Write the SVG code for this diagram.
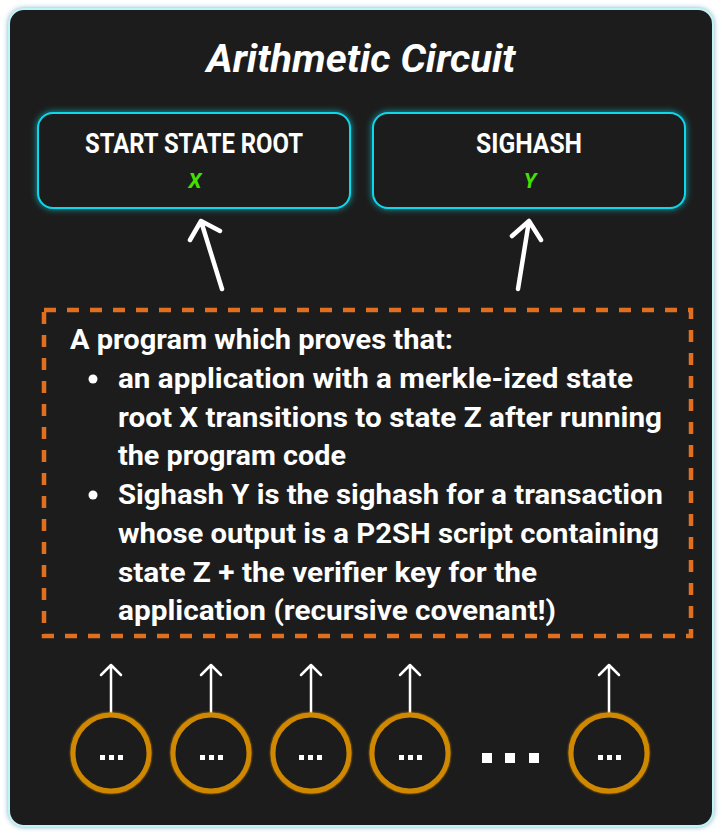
<svg xmlns="http://www.w3.org/2000/svg" width="722" height="835" viewBox="0 0 722 835">
<defs>
<filter id="glow" x="-10%" y="-10%" width="120%" height="120%">
<feGaussianBlur stdDeviation="3" result="b"/>
<feMerge><feMergeNode in="b"/><feMergeNode in="SourceGraphic"/></feMerge>
</filter>
<filter id="soft" x="-20%" y="-20%" width="140%" height="140%">
<feGaussianBlur stdDeviation="1.2" result="b"/>
<feMerge><feMergeNode in="b"/><feMergeNode in="SourceGraphic"/></feMerge>
</filter>
<style>
.panel{fill:#1d1d1d;stroke:#bff4fb;stroke-width:2}
.box{fill:#1d1d1d;stroke:#10d8ea;stroke-width:2}
.title{font-family:Roboto,"Liberation Sans",sans-serif;font-weight:bold;font-style:italic;font-size:39px;fill:#fff;text-anchor:middle}
.lbl{font-family:Roboto,"Liberation Sans",sans-serif;font-weight:bold;font-size:28px;fill:#fff;text-anchor:middle}
.var{font-family:Roboto,"Liberation Sans",sans-serif;font-weight:bold;font-style:italic;font-size:21px;fill:#44e000;text-anchor:middle}
.body{font-family:Roboto,"Liberation Sans",sans-serif;font-weight:bold;font-size:28px;fill:#fff}
.dash{fill:none;stroke:#e07020;stroke-width:4.5;stroke-dasharray:12 11}
.big{fill:none;stroke:#fff;stroke-width:4.5;stroke-linecap:round;stroke-linejoin:round}
.small{fill:none;stroke:#fff;stroke-width:2.5;stroke-linecap:round;stroke-linejoin:round}
.circ{fill:#1d1d1d;stroke:#d08800;stroke-width:5}
.dot{fill:#fff}
</style>
</defs>
<rect class="panel" x="9" y="9" width="704" height="817" rx="15" filter="url(#glow)"/>
<text class="title" x="361" y="72" textLength="309" lengthAdjust="spacingAndGlyphs">Arithmetic Circuit</text>

<g id="start-state-root">
<rect class="box" x="38" y="113" width="312" height="95" rx="15" filter="url(#glow)"/>
<text class="lbl" x="194" y="153" textLength="218" lengthAdjust="spacingAndGlyphs">START STATE ROOT</text>
<text class="var" x="195" y="188">X</text>
</g>
<g id="sighash">
<rect class="box" x="373" y="113" width="312" height="95" rx="15" filter="url(#glow)"/>
<text class="lbl" x="529" y="153" textLength="106" lengthAdjust="spacingAndGlyphs">SIGHASH</text>
<text class="var" x="530" y="188">Y</text>
</g>

<g id="program">
<rect class="dash" x="44" y="310" width="647" height="326"/>
<text class="body" x="70" y="349" textLength="383" lengthAdjust="spacingAndGlyphs">A program which proves that:</text>
<circle class="dot" cx="93" cy="379" r="4.5"/>
<text class="body" x="118" y="388" textLength="515" lengthAdjust="spacingAndGlyphs">an application with a merkle-ized state</text>
<text class="body" x="118" y="427" textLength="544" lengthAdjust="spacingAndGlyphs">root X transitions to state Z after running</text>
<text class="body" x="118" y="465" textLength="228" lengthAdjust="spacingAndGlyphs">the program code</text>
<circle class="dot" cx="93" cy="495" r="4.5"/>
<text class="body" x="118" y="504" textLength="545" lengthAdjust="spacingAndGlyphs">Sighash Y is the sighash for a transaction</text>
<text class="body" x="118" y="543" textLength="541" lengthAdjust="spacingAndGlyphs">whose output is a P2SH script containing</text>
<text class="body" x="118" y="582" textLength="419" lengthAdjust="spacingAndGlyphs">state Z + the verifier key for the</text>
<text class="body" x="118" y="620" textLength="438" lengthAdjust="spacingAndGlyphs">application (recursive covenant!)</text>
</g>

<g id="connectors">
<path class="big" d="M222 289 L201 221 M190 240 L201 221 L220 231"/>
<path class="big" d="M518 289 L529 221 M512 236 L529 221 L541 240"/>
<path class="small" d="M111 713 V665 M101 675 L111 665 L121 675"/>
<path class="small" d="M211 713 V665 M201 675 L211 665 L221 675"/>
<path class="small" d="M311 713 V665 M301 675 L311 665 L321 675"/>
<path class="small" d="M410 713 V665 M400 675 L410 665 L420 675"/>
<path class="small" d="M609 713 V665 M599 675 L609 665 L619 675"/>
</g>

<g id="in1"><circle class="circ" cx="111" cy="753" r="38" filter="url(#soft)"/><rect class="dot" x="100" y="755" width="5" height="5"/><rect class="dot" x="109" y="755" width="5" height="5"/><rect class="dot" x="118" y="755" width="5" height="5"/></g>
<g id="in2"><circle class="circ" cx="211" cy="753" r="38" filter="url(#soft)"/><rect class="dot" x="200" y="755" width="5" height="5"/><rect class="dot" x="209" y="755" width="5" height="5"/><rect class="dot" x="218" y="755" width="5" height="5"/></g>
<g id="in3"><circle class="circ" cx="311" cy="753" r="38" filter="url(#soft)"/><rect class="dot" x="299" y="755" width="5" height="5"/><rect class="dot" x="308" y="755" width="5" height="5"/><rect class="dot" x="317" y="755" width="5" height="5"/></g>
<g id="in4"><circle class="circ" cx="410" cy="753" r="38" filter="url(#soft)"/><rect class="dot" x="399" y="755" width="5" height="5"/><rect class="dot" x="408" y="755" width="5" height="5"/><rect class="dot" x="417" y="755" width="5" height="5"/></g>
<g id="ellipsis"><rect class="dot" x="482" y="753" width="10" height="10"/><rect class="dot" x="505" y="753" width="10" height="10"/><rect class="dot" x="529" y="753" width="10" height="10"/></g>
<g id="in5"><circle class="circ" cx="609" cy="753" r="38" filter="url(#soft)"/><rect class="dot" x="598" y="755" width="5" height="5"/><rect class="dot" x="607" y="755" width="5" height="5"/><rect class="dot" x="616" y="755" width="5" height="5"/></g>
</svg>
